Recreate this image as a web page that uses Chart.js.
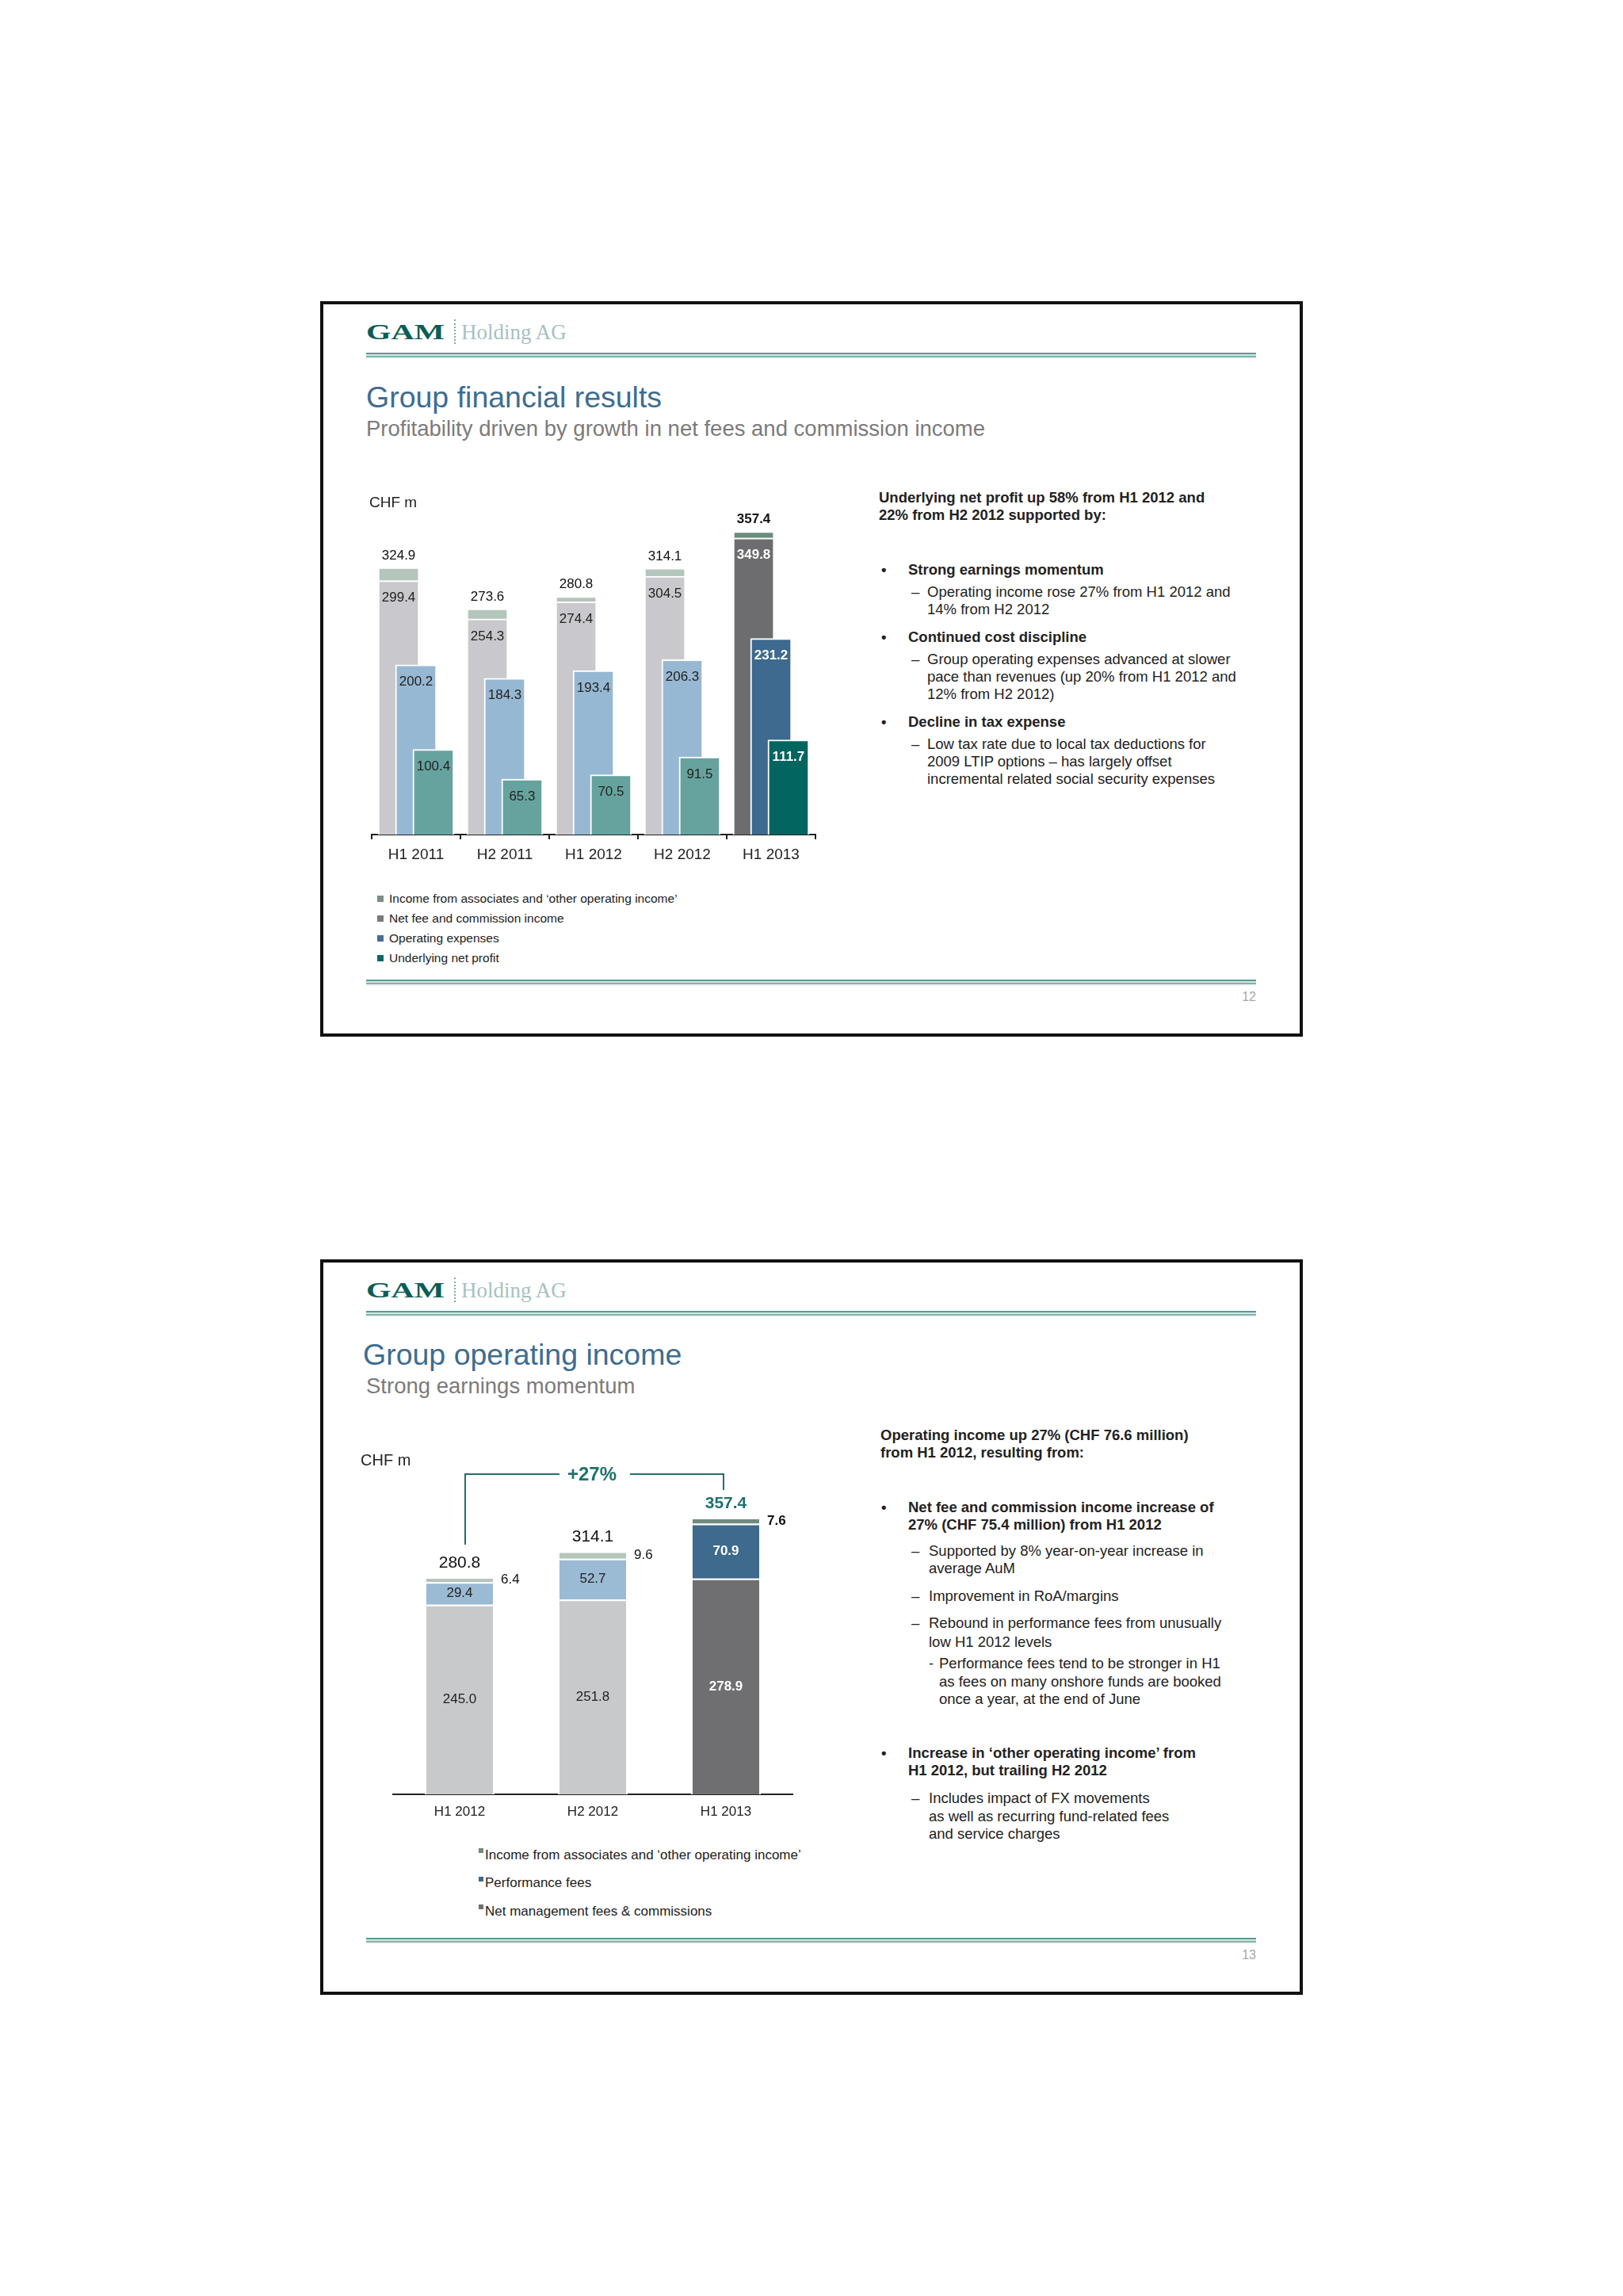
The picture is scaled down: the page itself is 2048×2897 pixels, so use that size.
<!DOCTYPE html>
<html><head><meta charset="utf-8">
<script src="https://cdn.jsdelivr.net/npm/chart.js@4.4.1/dist/chart.umd.min.js"></script>
<style>
html,body{margin:0;padding:0;background:#fff;}
body{width:2048px;height:2897px;position:relative;overflow:hidden;font-family:"Liberation Sans",Arial,sans-serif;}
.slide{position:absolute;left:404px;width:1240px;height:928px;border:4px solid #111;box-sizing:border-box;background:#fff;}
.t{position:absolute;white-space:nowrap;color:#222;}
.rule{position:absolute;left:462px;width:1123px;height:8px;background:linear-gradient(to bottom,#5b9a95 0,#5b9a95 2px,#d2e6e0 2px,#d2e6e0 4px,#7fb2ac 4px,#7fb2ac 6px,#eef5f3 6px,#eef5f3 8px);}
.sq{position:absolute;}
canvas{position:absolute;}
</style></head><body>
<div class="slide" style="top:380px"></div>
<div class="slide" style="top:1589px"></div>
<canvas id="c1" width="600" height="510" style="left:449px;top:590px"></canvas>
<canvas id="c2" width="544" height="464" style="left:476px;top:1840px"></canvas>
<script>
// ---------- DATA ----------
const categories1 = ['H1 2011', 'H2 2011', 'H1 2012', 'H2 2012', 'H1 2013'];
const operatingIncome = [324.9, 273.6, 280.8, 314.1, 357.4];
const netFeeIncome = [299.4, 254.3, 274.4, 304.5, 349.8];
const incomeFromAssociates = [15.5, 12.0, 6.4, 9.6, 7.6];   // heights as drawn in the picture
const operatingExpenses = [200.2, 184.3, 193.4, 206.3, 231.2];
const underlyingNetProfit = [100.4, 65.3, 70.5, 91.5, 111.7];

const categories2 = ['H1 2012', 'H2 2012', 'H1 2013'];
const netManagementFees = [245.0, 251.8, 278.9];
const performanceFees = [29.4, 52.7, 70.9];
const otherOperatingIncome = [6.4, 9.6, 7.6];
const totalOperatingIncome = [280.8, 314.1, 357.4];

const legend1 = ["Income from associates and \u2018other operating income\u2019", 'Net fee and commission income', 'Operating expenses', 'Underlying net profit'];
const legend2 = ["Income from associates and \u2018other operating income\u2019", 'Performance fees', 'Net management fees & commissions'];

// ---------- STYLE ----------
const FONT = '"Liberation Sans", Arial, sans-serif';
const TEAL = '#1f716c';
const HL1 = categories1.length - 1;
const HL2 = categories2.length - 1;
Chart.defaults.font.family = FONT;

function T(x, cy, s, size, o) {
  o = o || {};
  const d = document.createElement('div');
  d.className = 't';
  d.textContent = s;
  d.style.fontSize = size + 'px';
  d.style.lineHeight = (size * 1.2) + 'px';
  d.style.top = (cy - size * 0.6) + 'px';
  if (o.right) d.style.right = (2048 - x) + 'px'; else d.style.left = x + 'px';
  if (o.bold) d.style.fontWeight = 'bold';
  if (o.color) d.style.color = o.color;
  if (o.family) d.style.fontFamily = o.family;
  document.body.appendChild(d);
  return d;
}
function box(x, y, w, h, color, extra) {
  const d = document.createElement('div');
  d.className = 'sq';
  d.style.cssText = 'left:' + x + 'px;top:' + y + 'px;width:' + w + 'px;height:' + h + 'px;background:' + color + ';' + (extra || '');
  document.body.appendChild(d);
  return d;
}

// ---------- SLIDE FRAMES ----------
[380, 1589].forEach((S, k) => {
  const g = T(462, S + 39, 'GAM', 27, {bold: true, color: '#0b5d57', family: '"Liberation Serif", serif'});
  g.style.transform = 'scaleX(1.5)';
  g.style.transformOrigin = 'left center';
  box(573, S + 23, 0, 31, 'transparent', 'border-left:2px dotted #7fa9a5;');
  T(582, S + 39, 'Holding AG', 27, {color: '#a6c2be', family: '"Liberation Serif", serif'});
  const r1 = document.createElement('div'); r1.className = 'rule'; r1.style.top = (S + 65) + 'px'; document.body.appendChild(r1);
  const r2 = document.createElement('div'); r2.className = 'rule'; r2.style.top = (S + 856) + 'px'; document.body.appendChild(r2);
  T(1585, S + 878, k === 0 ? '12' : '13', 16, {right: true, color: '#a8a8a8'});
});

// ---------- SLIDE 1 TEXT ----------
T(462, 501, 'Group financial results', 37.5, {color: '#3d6d92'});
T(462, 540, 'Profitability driven by growth in net fees and commission income', 27.5, {color: '#7b7b7b'});
T(466, 634, 'CHF m', 19);
const fs = 18.5;
T(1109, 628, 'Underlying net profit up 58% from H1 2012 and', fs, {bold: true});
T(1109, 650, '22% from H2 2012 supported by:', fs, {bold: true});
[[719, 'Strong earnings momentum'], [804, 'Continued cost discipline'], [911, 'Decline in tax expense']].forEach(([y, s]) => {
  T(1112, y, '\u2022', fs, {bold: true});
  T(1146, y, s, fs, {bold: true});
});
[[747, true, 'Operating income rose 27% from H1 2012 and'], [769, false, '14% from H2 2012'],
 [832, true, 'Group operating expenses advanced at slower'], [854, false, 'pace than revenues (up 20% from H1 2012 and'], [876, false, '12% from H2 2012)'],
 [939, true, 'Low tax rate due to local tax deductions for'], [961, false, '2009 LTIP options \u2013 has largely offset'], [983, false, 'incremental related social security expenses']
].forEach(([y, dash, s]) => {
  if (dash) T(1150, y, '\u2013', fs);
  T(1170, y, s, fs);
});
const legCol1 = ['#7f8c85', '#7a7a7a', '#466e91', '#0d6660'];
legend1.forEach((s, i) => {
  const cy = 1134 + i * 25;
  box(476, cy - 4, 8, 8, legCol1[i]);
  T(491, cy, s, 15.5);
});

// ---------- SLIDE 2 TEXT ----------
T(458, 1709, 'Group operating income', 37.5, {color: '#3d6d92'});
T(462, 1748, 'Strong earnings momentum', 27.5, {color: '#7b7b7b'});
T(455, 1842, 'CHF m', 20);
T(1111, 1811, 'Operating income up 27% (CHF 76.6 million)', fs, {bold: true});
T(1111, 1833, 'from H1 2012, resulting from:', fs, {bold: true});
[[1902, 'Net fee and commission income increase of', true], [1924, '27% (CHF 75.4 million) from H1 2012', false],
 [2212, 'Increase in \u2018other operating income\u2019 from', true], [2234, 'H1 2012, but trailing H2 2012', false]].forEach(([y, s, b]) => {
  if (b) T(1112, y, '\u2022', fs, {bold: true});
  T(1146, y, s, fs, {bold: true});
});
[[1957, true, 'Supported by 8% year-on-year increase in'], [1979, false, 'average AuM'],
 [2014, true, 'Improvement in RoA/margins'],
 [2048, true, 'Rebound in performance fees from unusually'], [2072, false, 'low H1 2012 levels'],
 [2269, true, 'Includes impact of FX movements'], [2292, false, 'as well as recurring fund-related fees'], [2314, false, 'and service charges']
].forEach(([y, dash, s]) => {
  if (dash) T(1150, y, '\u2013', fs);
  T(1172, y, s, fs);
});
T(1172, 2099, '-', fs);
T(1185, 2099, 'Performance fees tend to be stronger in H1', fs);
T(1185, 2122, 'as fees on many onshore funds are booked', fs);
T(1185, 2144, 'once a year, at the end of June', fs);
const legCol2 = ['#6e8a7e', '#3e6a8e', '#707070'];
legend2.forEach((s, i) => {
  const cy = 2341 + i * 35.5;
  box(604, cy - 9, 6, 6, legCol2[i]);
  T(612, cy, s, 17);
});

// ---------- CHART 1 ----------
const OFF = 0.196;
const hl = (light, dark) => categories1.map((c, i) => i === HL1 ? dark : light);
const pts = (arr, off) => arr.map((v, i) => ({x: i + off, y: v}));
const common1 = {xAxisID: 'xb', grouped: false, barThickness: 52, borderColor: '#ffffff', borderWidth: 2, borderSkipped: 'bottom'};
const labels1 = {
  id: 'labels1',
  afterDatasetsDraw(chart) {
    const ctx = chart.ctx;
    ctx.save();
    ctx.textAlign = 'center';
    ctx.textBaseline = 'middle';
    chart.data.datasets.forEach((ds, di) => {
      const meta = chart.getDatasetMeta(di);
      meta.data.forEach((bar, i) => {
        const h = i === HL1;
        if (ds.labelMode === 'total') {
          ctx.font = (h ? 'bold ' : '') + '17px ' + FONT;
          ctx.fillStyle = '#111';
          ctx.fillText(operatingIncome[i].toFixed(1), bar.x, bar.y - 15);
        } else {
          ctx.font = (h ? 'bold ' : '') + '17px ' + FONT;
          ctx.fillStyle = h ? '#ffffff' : '#222';
          ctx.fillText(ds.data[i].y.toFixed(1), bar.x, bar.y + 22);
        }
      });
    });
    ctx.restore();
  }
};
new Chart(document.getElementById('c1'), {
  type: 'bar',
  data: {
    labels: categories1,
    datasets: [
      Object.assign({label: legend1[3], data: pts(underlyingNetProfit, OFF), stack: 'c', backgroundColor: hl('#66a39f', '#02655f')}, common1),
      Object.assign({label: legend1[2], data: pts(operatingExpenses, 0), stack: 'b', backgroundColor: hl('#97b8d3', '#3d6a8e')}, common1),
      Object.assign({label: legend1[1], data: pts(netFeeIncome, -OFF), stack: 'a', backgroundColor: hl('#c9c8cc', '#6d6d6f')}, common1),
      Object.assign({label: legend1[0], data: pts(incomeFromAssociates, -OFF), stack: 'a', labelMode: 'total', backgroundColor: hl('#b4c5bb', '#6b8c7e')}, common1)
    ]
  },
  options: {
    responsive: false, animation: false,
    layout: {padding: {left: 20, right: 20, top: 35, bottom: 7}},
    plugins: {legend: {display: false}, tooltip: {enabled: false}},
    scales: {
      x: {type: 'category', offset: true,
          grid: {display: true, offset: true, drawOnChartArea: false, drawTicks: true, tickLength: 6, color: '#222', lineWidth: 2},
          border: {display: true, color: '#222', width: 2},
          ticks: {color: '#222', font: {size: 19}, padding: 8, maxRotation: 0},
          afterFit: (s) => { s.height = 40; }},
      xb: {type: 'linear', min: -0.5, max: 4.5, display: false, offset: false},
      y: {stacked: true, min: 0, max: 400, display: false}
    }
  },
  plugins: [labels1]
});

// ---------- CHART 2 ----------
const hl2 = (light, dark) => categories2.map((c, i) => i === HL2 ? dark : light);
const growthLabel = '+' + Math.round((totalOperatingIncome[HL2] / totalOperatingIncome[0] - 1) * 100) + '%';
const common2 = {borderColor: '#ffffff', borderWidth: 2, borderSkipped: 'bottom', categoryPercentage: 0.524, barPercentage: 1};
const labels2 = {
  id: 'labels2',
  afterDatasetsDraw(chart) {
    const ctx = chart.ctx;
    ctx.save();
    ctx.textBaseline = 'middle';
    chart.data.datasets.forEach((ds, di) => {
      const meta = chart.getDatasetMeta(di);
      meta.data.forEach((bar, i) => {
        const h = i === HL2;
        const v = ds.data[i];
        const cy = (bar.y + bar.base) / 2;
        if (ds.labelMode === 'side') {
          ctx.textAlign = 'left';
          ctx.font = (h ? 'bold ' : '') + '17px ' + FONT;
          ctx.fillStyle = '#111';
          ctx.fillText(v.toFixed(1), bar.x + bar.width / 2 + 8, cy);
          ctx.textAlign = 'center';
          ctx.font = (h ? 'bold ' : '') + '21px ' + FONT;
          ctx.fillStyle = h ? TEAL : '#111';
          ctx.fillText(totalOperatingIncome[i].toFixed(1), bar.x, bar.y - 18);
        } else {
          ctx.textAlign = 'center';
          ctx.font = (h ? 'bold ' : '') + '17px ' + FONT;
          ctx.fillStyle = h ? '#ffffff' : '#222';
          ctx.fillText(v.toFixed(1), bar.x, cy);
        }
      });
    });
    // growth bracket
    const m = chart.getDatasetMeta(2);
    const a = m.data[0], b = m.data[HL2];
    const yLine = b.y - 55;
    const xa = a.x + 7, xb = b.x - 3, xm = (xa + xb) / 2;
    ctx.font = 'bold 24px ' + FONT;
    const tw = ctx.measureText(growthLabel).width;
    ctx.strokeStyle = TEAL; ctx.lineWidth = 2;
    ctx.beginPath();
    ctx.moveTo(xa, a.y - 41); ctx.lineTo(xa, yLine); ctx.lineTo(xm - tw / 2 - 13, yLine);
    ctx.moveTo(xm + tw / 2 + 14, yLine); ctx.lineTo(xb, yLine); ctx.lineTo(xb, b.y - 35);
    ctx.stroke();
    ctx.fillStyle = TEAL; ctx.textAlign = 'center';
    ctx.fillText(growthLabel, xm - 3, yLine + 1);
    ctx.restore();
  }
};
new Chart(document.getElementById('c2'), {
  type: 'bar',
  data: {
    labels: categories2,
    datasets: [
      Object.assign({label: legend2[2], data: netManagementFees, backgroundColor: hl2('#c8c9cb', '#6f6f71')}, common2),
      Object.assign({label: legend2[1], data: performanceFees, backgroundColor: hl2('#9bbad3', '#3e6a8d')}, common2),
      Object.assign({label: legend2[0], data: otherOperatingIncome, labelMode: 'side', backgroundColor: hl2('#b5c6ba', '#708a7f')}, common2)
    ]
  },
  options: {
    responsive: false, animation: false,
    layout: {padding: {left: 20, right: 20, top: 14, bottom: 0}},
    plugins: {legend: {display: false}, tooltip: {enabled: false}},
    scales: {
      x: {stacked: true, offset: true,
          grid: {display: false, drawTicks: false},
          border: {display: true, color: '#222', width: 2},
          ticks: {color: '#222', font: {size: 17}, padding: 12, maxRotation: 0},
          afterFit: (s) => { s.height = 40; }},
      y: {stacked: true, min: 0, max: 420, display: false}
    }
  },
  plugins: [labels2]
});
</script>
</body></html>
